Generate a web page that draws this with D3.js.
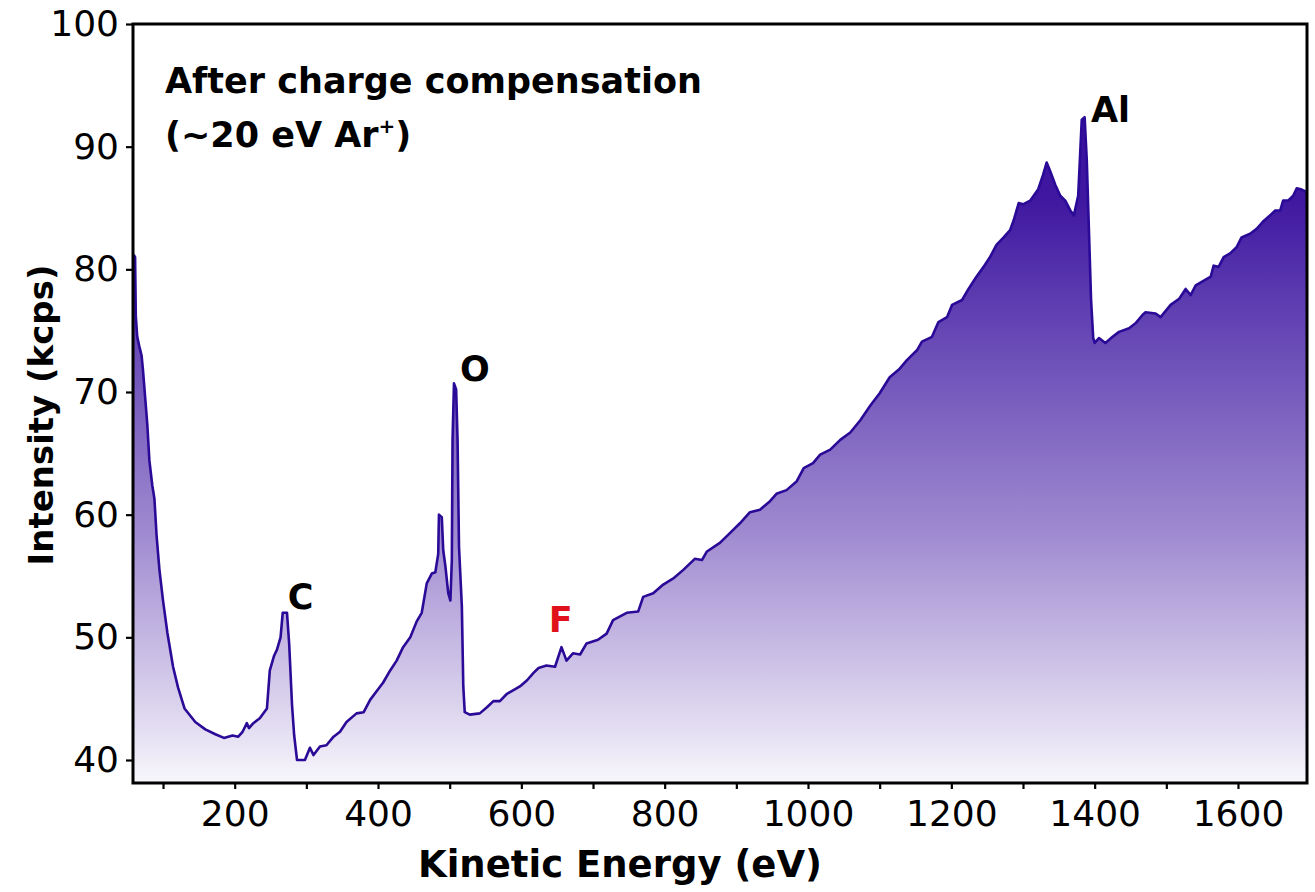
<!DOCTYPE html>
<html>
<head>
<meta charset="utf-8">
<script src="https://cdn.jsdelivr.net/npm/d3@7.9.0/dist/d3.min.js"></script>
<style>
  html, body { margin: 0; padding: 0; background: #fff; }
  svg { display: block; }
  .tick text { font-family: "DejaVu Sans", sans-serif; }
</style>
</head>
<body>
<svg id="chart" width="1315" height="892"></svg>
<script>
// spectrum: kinetic energy (eV) and intensity (kcps)
var energy = [
  59, 61, 62, 64, 67, 70, 72, 75, 78, 81, 85, 88, 91, 95, 100, 106, 114, 121, 130, 145,
  159, 173, 185, 197, 205, 211, 217, 220, 226, 235, 245, 249, 255, 259, 264, 267, 273, 276, 280, 283,
  287, 298, 305, 310, 319, 328, 338, 347, 356, 370, 380, 389, 398, 407, 417, 426, 435, 445, 454, 461,
  468, 475, 480, 484, 485, 489, 491, 494, 498, 501, 503, 504, 506, 509, 511, 513, 517, 519, 521, 528,
  542, 552, 561, 570, 580, 589, 598, 608, 617, 624, 635, 647, 656, 663, 672, 682, 691, 707, 719, 728,
  747, 763, 770, 784, 798, 812, 826, 842, 852, 859, 877, 891, 905, 919, 933, 947, 956, 970, 984, 994,
  1007, 1017, 1031, 1045, 1059, 1073, 1087, 1100, 1114, 1128, 1138, 1152, 1159, 1173, 1182, 1194, 1201, 1215, 1224, 1235,
  1245, 1254, 1263, 1273, 1282, 1287, 1294, 1300, 1310, 1321, 1328, 1333, 1338, 1345, 1352, 1359, 1366, 1371, 1377, 1380,
  1382, 1386, 1389, 1392, 1395, 1398, 1400, 1406, 1415, 1425, 1434, 1448, 1457, 1467, 1471, 1485, 1492, 1506, 1518, 1527,
  1534, 1541, 1553, 1562, 1566, 1573, 1580, 1589, 1598, 1605, 1617, 1626, 1635, 1645, 1652, 1659, 1663, 1670, 1677, 1682,
  1689, 1696
]
var intensity = [
  81.2, 81.0, 76.2, 74.5, 73.7, 73.0, 71.8, 69.6, 67.4, 64.4, 62.4, 61.3, 58.3, 55.5, 53.0, 50.4, 47.6, 45.9, 44.2, 43.1,
  42.5, 42.1, 41.8, 42.0, 41.9, 42.3, 43.0, 42.6, 43.0, 43.4, 44.2, 47.3, 48.5, 49.0, 50.0, 52.0, 52.0, 49.5, 44.5, 42.0,
  40.0, 40.0, 41.0, 40.4, 41.1, 41.2, 41.9, 42.3, 43.1, 43.8, 43.9, 44.9, 45.6, 46.3, 47.3, 48.1, 49.2, 50.0, 51.3, 52.0,
  54.4, 55.2, 55.3, 56.8, 60.0, 59.8, 57.1, 55.8, 53.6, 53.0, 56.3, 66.1, 70.7, 70.2, 66.1, 57.4, 52.5, 46.0, 43.9, 43.7,
  43.8, 44.3, 44.8, 44.8, 45.4, 45.7, 46.0, 46.5, 47.1, 47.5, 47.7, 47.6, 49.2, 48.1, 48.7, 48.6, 49.5, 49.8, 50.3, 51.4,
  52.0, 52.1, 53.3, 53.6, 54.3, 54.8, 55.5, 56.4, 56.3, 57.0, 57.7, 58.5, 59.3, 60.2, 60.4, 61.1, 61.7, 62.0, 62.7, 63.8,
  64.2, 64.9, 65.3, 66.1, 66.7, 67.7, 68.9, 69.9, 71.2, 71.9, 72.6, 73.4, 74.1, 74.5, 75.7, 76.1, 77.1, 77.5, 78.4, 79.4,
  80.2, 81.0, 82.0, 82.6, 83.2, 84.0, 85.4, 85.3, 85.6, 86.5, 87.7, 88.7, 88.0, 86.9, 86.0, 85.6, 84.8, 84.4, 86.0, 89.7,
  92.2, 92.4, 88.9, 83.2, 77.5, 74.4, 74.0, 74.4, 74.0, 74.5, 74.9, 75.2, 75.6, 76.3, 76.5, 76.4, 76.1, 77.1, 77.6, 78.4,
  77.9, 78.7, 79.1, 79.4, 80.3, 80.2, 81.0, 81.3, 81.8, 82.6, 82.9, 83.3, 83.9, 84.4, 84.8, 84.8, 85.6, 85.6, 86.0, 86.6,
  86.5, 86.3
]

var xTicks = d3.range(100, 1700, 100)
var xLabelTicks = [200, 400, 600, 800, 1000, 1200, 1400, 1600]
var yTicks = [40, 50, 60, 70, 80, 90, 100]

var peakNames = ['C', 'O', 'F', 'Al']
var peakEnergy = [292, 535, 655, 1422]
var peakLevel = [52.3, 70.9, 50.4, 92.0]
var peakColor = ['#000', '#000', '#e0111b', '#000']

var svg = d3.select('#chart')
var m = { left: 133, right: 1307, top: 24, bottom: 783 }

var x = d3.scaleLinear().domain([58.1, 1696.3]).range([m.left, m.right])
var y = d3.scaleLinear().domain([38.125, 100]).range([m.bottom, m.top])

var data = energy.map(function (e, i) { return { e: e, v: intensity[i] } })

var defs = svg.append('defs')
var grad = defs.append('linearGradient')
  .attr('id', 'fillGrad')
  .attr('gradientUnits', 'userSpaceOnUse')
  .attr('x1', 0).attr('x2', 0)
  .attr('y1', m.top).attr('y2', m.bottom)
;[[0, '#32089a'], [0.23, '#3f17a0'], [0.36, '#5c3bb0'], [0.67, '#9f8ad0'], [0.93, '#e4def2'], [1, '#f8f7fc']]
  .forEach(function (s) {
    grad.append('stop').attr('offset', s[0]).attr('stop-color', s[1])
  })

defs.append('clipPath').attr('id', 'plotClip')
  .append('rect')
  .attr('x', m.left).attr('y', m.top)
  .attr('width', m.right - m.left).attr('height', m.bottom - m.top)

var g = svg.append('g').attr('clip-path', 'url(#plotClip)')

var area = d3.area()
  .x(function (d) { return x(d.e) })
  .y0(m.bottom)
  .y1(function (d) { return y(d.v) })

var line = d3.line()
  .x(function (d) { return x(d.e) })
  .y(function (d) { return y(d.v) })

g.append('path').datum(data).attr('d', area).attr('fill', 'url(#fillGrad)')
g.append('path').datum(data).attr('d', line)
  .attr('fill', 'none')
  .attr('stroke', '#2a0a96')
  .attr('stroke-width', 2.6)
  .attr('stroke-linejoin', 'round')

// axes
var xAxis = d3.axisBottom(x)
  .tickValues(xTicks)
  .tickSize(6)
  .tickSizeOuter(0)
  .tickPadding(11)
  .tickFormat(function (d) { return xLabelTicks.indexOf(d) >= 0 ? d : '' })

var gx = svg.append('g').attr('transform', 'translate(0,' + m.bottom + ')').call(xAxis)
gx.select('.domain').remove()
gx.selectAll('line').attr('stroke', '#000').attr('stroke-width', 2.2)
gx.selectAll('text').attr('font-size', 36).attr('fill', '#000')

var yAxis = d3.axisLeft(y)
  .tickValues(yTicks)
  .tickSize(7)
  .tickSizeOuter(0)
  .tickPadding(7)

var gy = svg.append('g').attr('transform', 'translate(' + m.left + ',0)').call(yAxis)
gy.select('.domain').remove()
gy.selectAll('line').attr('stroke', '#000').attr('stroke-width', 2.2)
gy.selectAll('text').attr('font-size', 36).attr('fill', '#000')

// frame
svg.append('rect')
  .attr('x', m.left).attr('y', m.top)
  .attr('width', m.right - m.left).attr('height', m.bottom - m.top)
  .attr('fill', 'none').attr('stroke', '#000').attr('stroke-width', 3)

var bold = '"DejaVu Sans", sans-serif'

svg.append('text')
  .attr('x', 620).attr('y', 877)
  .attr('text-anchor', 'middle')
  .attr('font-family', bold).attr('font-weight', 'bold').attr('font-size', 37)
  .text('Kinetic Energy (eV)')

svg.append('text')
  .attr('transform', 'translate(53,415) rotate(-90)')
  .attr('text-anchor', 'middle')
  .attr('font-family', bold).attr('font-weight', 'bold').attr('font-size', 34)
  .text('Intensity (kcps)')

svg.append('text')
  .attr('x', 165).attr('y', 93)
  .attr('font-family', bold).attr('font-weight', 'bold').attr('font-size', 35)
  .text('After charge compensation')

var t2 = svg.append('text')
  .attr('x', 165).attr('y', 147)
  .attr('font-family', bold).attr('font-weight', 'bold').attr('font-size', 35)
t2.append('tspan').text('(~20 eV Ar')
t2.append('tspan').attr('font-size', 20).attr('dy', -14).text('+')
t2.append('tspan').attr('dy', 14).text(')')

peakNames.forEach(function (n, i) {
  svg.append('text')
    .attr('x', x(peakEnergy[i])).attr('y', y(peakLevel[i]))
    .attr('text-anchor', 'middle')
    .attr('font-family', bold).attr('font-weight', 'bold').attr('font-size', 35)
    .attr('fill', peakColor[i])
    .text(n)
})
</script>
</body>
</html>
